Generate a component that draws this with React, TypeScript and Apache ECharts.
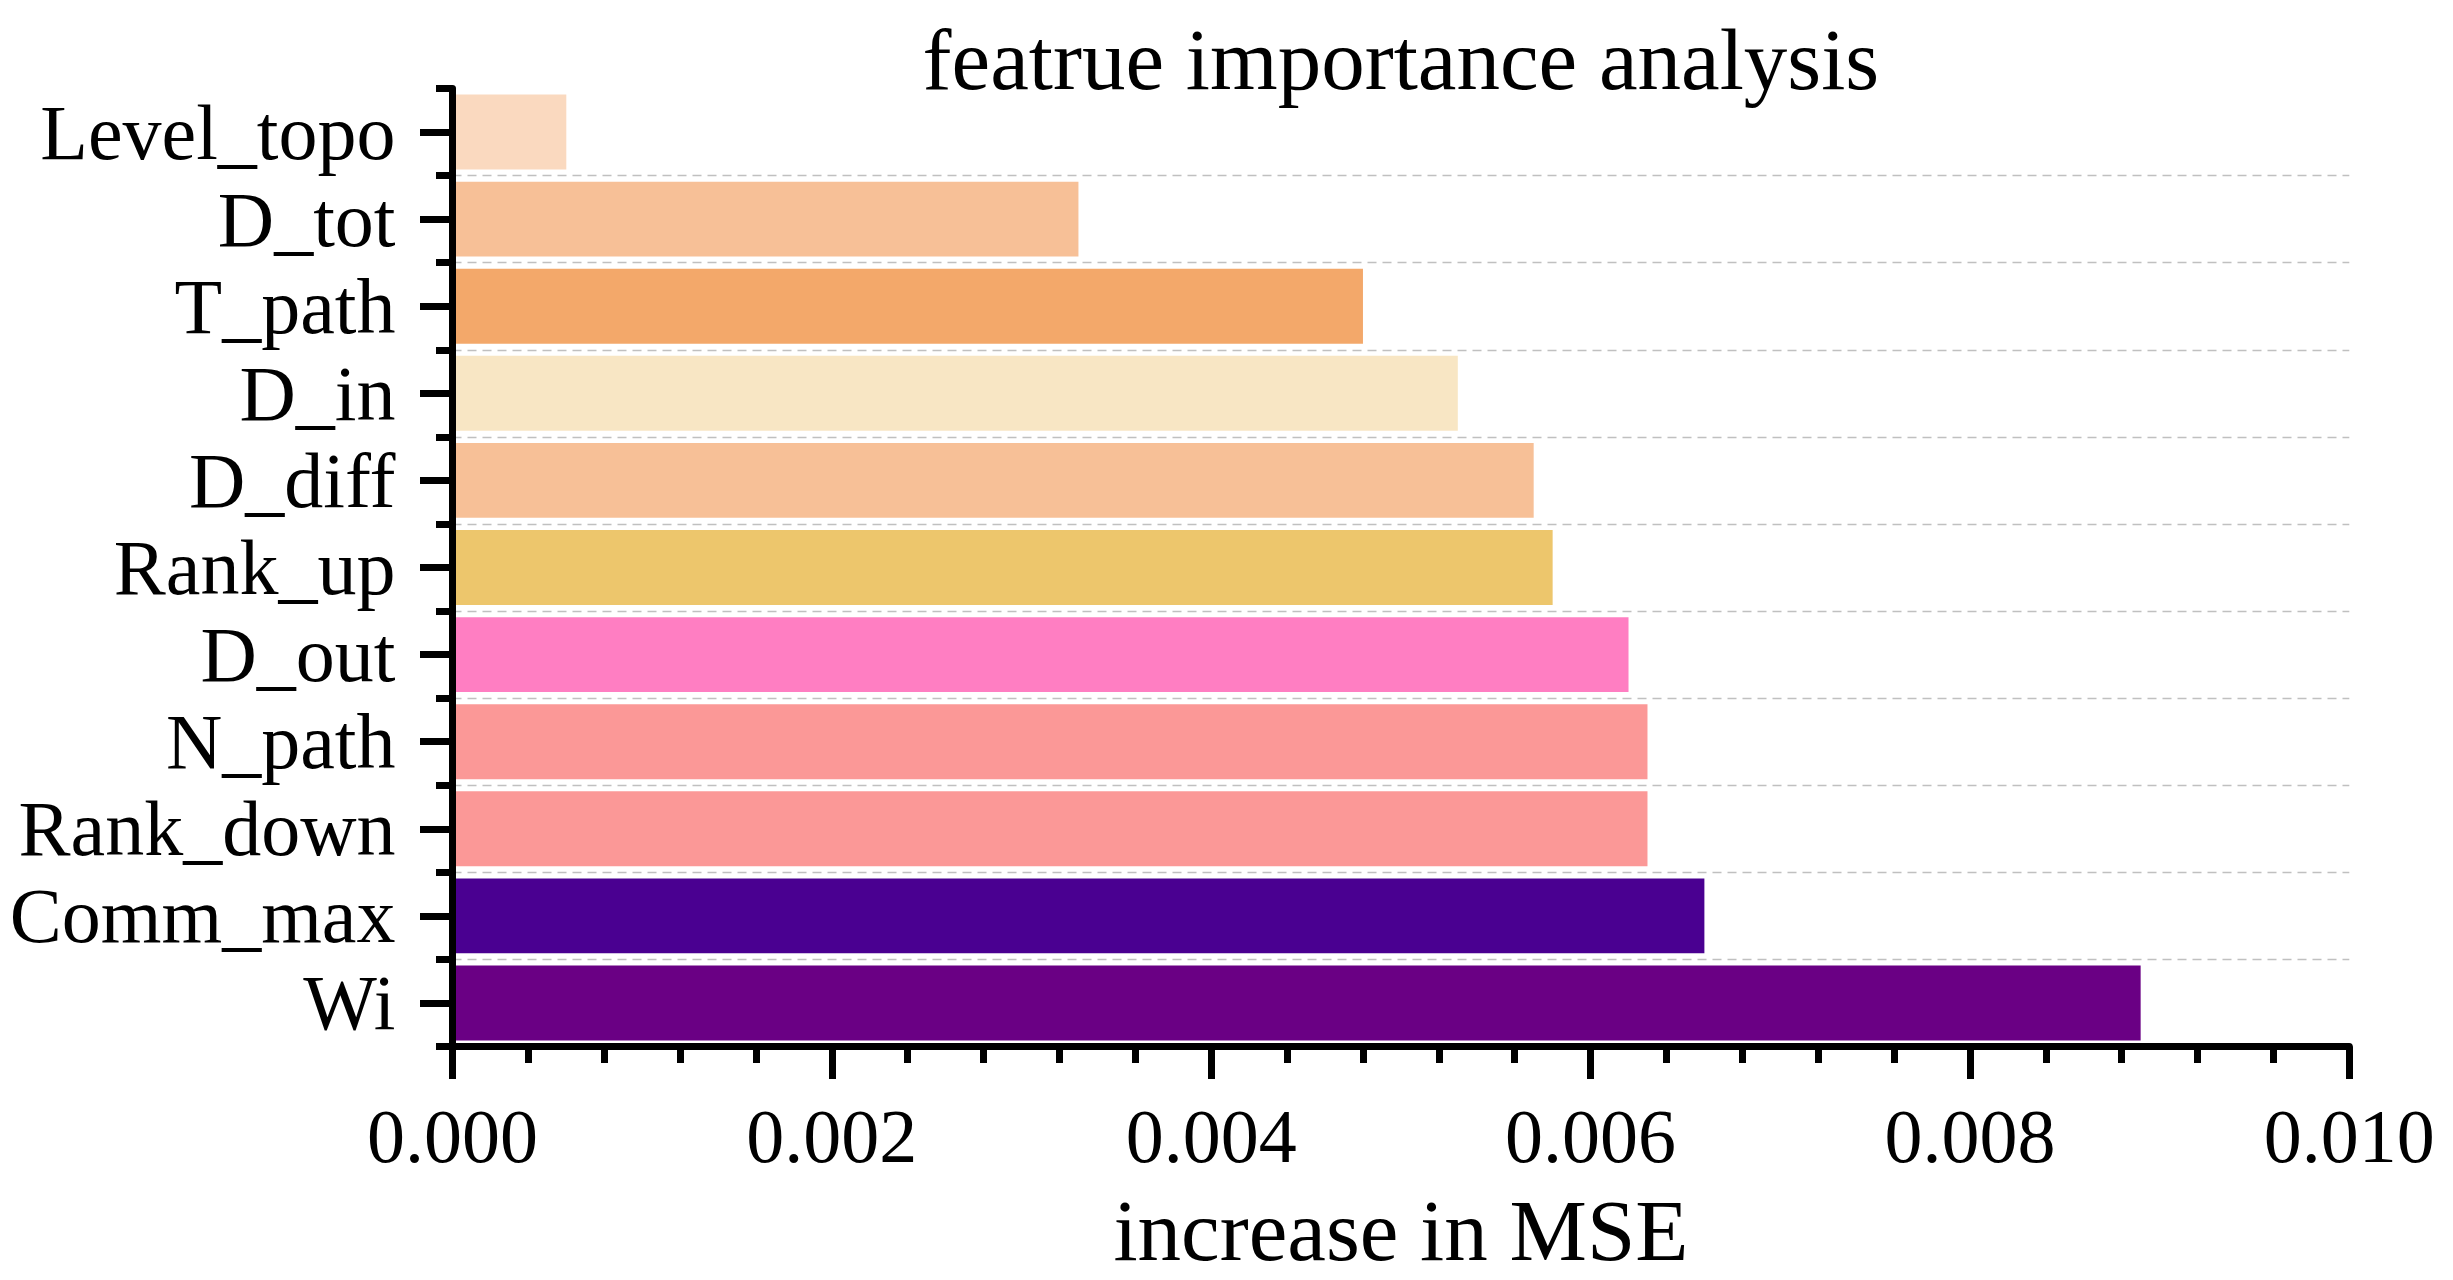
import React, { useEffect, useRef } from "react";
import * as echarts from "echarts";

const categories = [
  "Level_topo",
  "D_tot",
  "T_path",
  "D_in",
  "D_diff",
  "Rank_up",
  "D_out",
  "N_path",
  "Rank_down",
  "Comm_max",
  "Wi",
];
const values = [0.0006, 0.0033, 0.0048, 0.0053, 0.0057, 0.0058, 0.0062, 0.0063, 0.0063, 0.0066, 0.0089];
const colors = [
  "#FAD9BF",
  "#F7C097",
  "#F3A86A",
  "#F8E6C4",
  "#F7C097",
  "#EDC66C",
  "#FF7EC2",
  "#FB9897",
  "#FB9897",
  "#4A0091",
  "#6A0084",
];
const xTicks = { min: 0, max: 0.01, interval: 0.002 };
const titleText = "featrue importance analysis";
const xName = "increase in MSE";

const FONT = '"Liberation Serif", "Times New Roman", serif';

export default function App() {
  const ref = useRef<HTMLDivElement>(null);
  useEffect(() => {
    if (!ref.current) return;
    const chart = echarts.init(ref.current, undefined, { renderer: "svg" });
    const gridLeft = 452.5;
    const gridRight = 2453 - 2349.3;
    const gridTop = 88.5;
    const gridBottom = 1280 - 1046.5;
    const plotCenter = gridLeft + (2453 - gridRight - gridLeft) / 2;
    chart.setOption({
      animation: false,
      backgroundColor: "#ffffff",
      graphic: [
        {
          type: "text",
          x: plotCenter,
          y: 16,
          style: {
            text: titleText,
            fill: "#000",
            font: `87px ${FONT}`,
            align: "center",
            verticalAlign: "top",
          },
        },
      ],
      grid: { left: gridLeft, right: gridRight, top: gridTop, bottom: gridBottom, containLabel: false },
      xAxis: {
        type: "value",
        min: xTicks.min,
        max: xTicks.max,
        interval: xTicks.interval,
        z: 10,
        name: xName,
        nameLocation: "middle",
        nameGap: 140,
        nameTextStyle: { fontSize: 87, fontFamily: FONT, color: "#000" },
        axisLine: { show: true, lineStyle: { color: "#000", width: 7 } },
        axisTick: { show: true, length: 32.5, lineStyle: { color: "#000", width: 7 } },
        minorTick: { show: true, splitNumber: 5, length: 16.5, lineStyle: { color: "#000", width: 7 } },
        splitLine: { show: false },
        minorSplitLine: { show: false },
        axisLabel: {
          fontSize: 76,
          fontFamily: FONT,
          color: "#000",
          margin: 51.5,
          formatter: (v: number) => v.toFixed(3),
        },
      },
      yAxis: [
        {
          type: "category",
          data: categories,
          inverse: true,
          z: 10,
          axisLine: { show: true, lineStyle: { color: "#000", width: 7 } },
          axisTick: {
            show: true,
            interval: 0,
            alignWithLabel: true,
            length: 32.5,
            lineStyle: { color: "#000", width: 7 },
          },
          axisLabel: { interval: 0, fontSize: 78, fontFamily: FONT, color: "#000", margin: 57 },
          splitLine: { show: false },
        },
        {
          type: "category",
          data: categories,
          inverse: true,
          position: "left",
          z: 10,
          axisLine: { show: false },
          axisTick: {
            show: true,
            interval: 0,
            alignWithLabel: false,
            length: 16.5,
            lineStyle: { color: "#000", width: 7 },
          },
          axisLabel: { show: false },
          splitLine: {
            show: true,
            interval: (i: number) => i !== 0,
            lineStyle: { color: "#c0c0c0", width: 1.4, type: [9, 6] },
          },
        },
      ],
      series: [
        {
          type: "bar",
          yAxisIndex: 0,
          z: 1,
          barWidth: "86%",
          data: values.map((v, i) => ({ value: v, itemStyle: { color: colors[i] } })),
        },
      ],
    });
    return () => chart.dispose();
  }, []);
  return (
    <div
      ref={ref}
      style={{ position: "fixed", left: 0, top: 0, width: 2453, height: 1280 }}
    />
  );
}
